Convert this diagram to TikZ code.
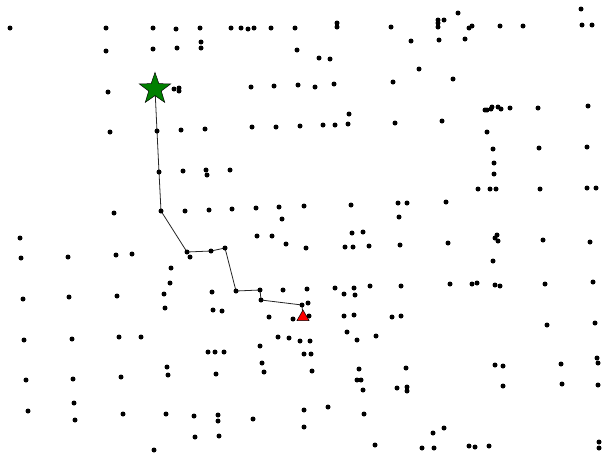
\documentclass[tikz,border=0pt]{standalone}
\usetikzlibrary{shapes.geometric,backgrounds}

\tikzset{
  dot/.style={circle,fill=black,inner sep=0pt,minimum size=5pt},
  startmark/.style={star,star points=5,star point ratio=2.5,inner sep=0pt,
    minimum size=33pt,fill=green!50!black,draw=black,line width=.5pt},
  goalmark/.style={regular polygon,regular polygon sides=3,inner sep=0pt,
    minimum size=14pt,fill=red,draw=black,line width=.5pt},
  route/.style={line width=.8pt,black!85}
}

\begin{document}
\begin{tikzpicture}[x=1pt,y=-1pt,line cap=round]
  \useasboundingbox (0,0) rectangle (605,453);

  % scattered points
  \foreach \px/\py [count=\i] in {
      10/28,106/28,153/28,176/29,200/28,106/51,153/49,177/48,201/42,201/48,
      174/89,179/88,179/91,108/92,110/132,181/130,
      231/28,241/28,248/29,254/28,271/28,295/28,337/23,337/27,391/27,297/50,
      319/58,330/59,251/87,274/86,298/85,315/87,334/84,393/82,205/129,252/127,
      276/127,300/126,323/125,335/125,348/124,349/114,395/123,
      581/9,438/20,438/23,438/27,444/20,458/13,469/28,472/26,500/26,523/26,
      582/25,592/25,411/41,439/40,465/39,419/69,453/79,442/121,485/110,487/110,
      491/109,492/107,498/107,501/109,510/108,538/108,588/106,487/132,493/149,
      539/148,587/147,
      183/171,185/211,114/213,20/238,21/258,68/257,116/255,132/254,190/257,
      171/268,170/283,164/294,23/299,69/297,117/296,
      206/170,207/175,230/170,209/210,232/209,256/208,279/207,282/219,304/206,
      351/205,398/203,399/217,257/236,272/236,286/244,306/248,345/247,353/247,
      352/233,363/232,369/246,400/245,212/292,283/290,307/289,335/288,354/288,
      370/286,344/294,355/295,401/286,
      494/163,494/174,478/189,490/189,496/189,540/189,587/188,596/188,407/203,
      446/202,495/238,497/235,498/241,543/240,590/242,448/243,493/261,450/284,
      472/284,477/283,495/285,500/286,545/284,593/282,
      165/308,24/340,72/339,119/337,141/337,167/367,168/375,26/380,73/379,
      121/377,28/411,74/403,75/420,123/414,166/414,194/416,195/437,154/450,
      308/303,213/310,222/311,269/317,293/319,309/316,344/316,354/315,392/317,
      401/316,347/332,376/336,357/340,278/337,289/338,300/341,310/341,260/346,
      208/352,215/352,224/352,304/354,311/354,262/363,264/372,312/371,216/374,
      359/369,357/380,361/380,363/390,397/388,328/407,304/410,218/415,218/421,
      253/419,364/414,304/427,219/436,375/445,
      547/325,595/323,406/368,495/365,503/366,561/364,597/358,598/363,407/387,
      407/391,503/386,562/384,598/385,444/428,433/433,422/448,434/448,469/446,
      475/447,489/446,599/442,599/448}
    \node[dot] (d\i) at (\px,\py) {};

  % route points
  \foreach \px/\py [count=\i] in {
      157/131,159/172,161/211,187/252,211/251,225/248,236/291,260/290,
      261/300,302/305}
    \node[dot] (r\i) at (\px,\py) {};

  \node[startmark] (src) at (155,89) {};
  \node[goalmark] (dst) at (303,317) {};

  \begin{scope}[on background layer]
    \draw[route] (src.center) -- (r1.center) -- (r2.center) -- (r3.center)
      -- (r4.center) -- (r5.center) -- (r6.center) -- (r7.center)
      -- (r8.center) -- (r9.center) -- (r10.center) -- (dst.center);
  \end{scope}
\end{tikzpicture}
\end{document}
